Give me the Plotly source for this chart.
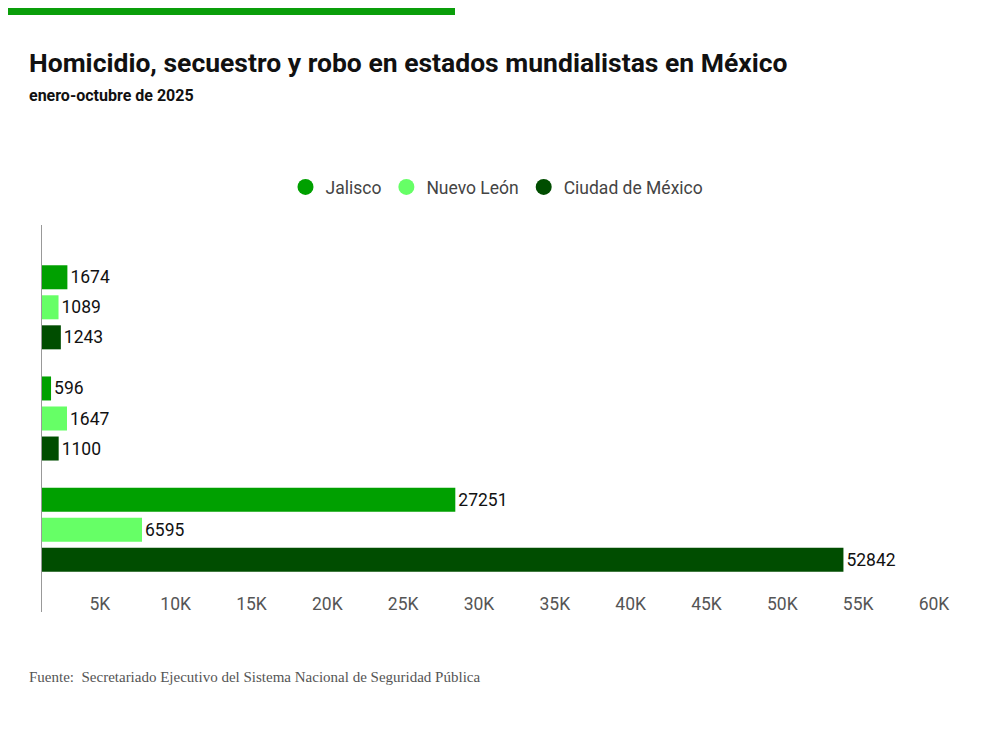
import plotly.graph_objects as go

# categories (tick labels hidden in the original)
delitos = ["Homicidio", "Secuestro", "Robo"]
estados = ["Jalisco", "Nuevo León", "Ciudad de México"]
colores = ["#00A000", "#66FF66", "#004D00"]

jalisco = [1674, 596, 27251]
nuevo_leon = [1089, 1647, 6595]
cdmx = [1243, 1100, 52842]

x_ticks = [5000, 10000, 15000, 20000, 25000, 30000, 35000, 40000, 45000, 50000, 55000, 60000]
x_tick_labels = ["5K", "10K", "15K", "20K", "25K", "30K", "35K", "40K", "45K", "50K", "55K", "60K"]

# page body adds an 8px offset, so the figure is laid out in page pixels minus 8
OFF = 8
W, H = 1000 - OFF, 745 - OFF
L, T = 42 - OFF, 225 - OFF
R, B = W - (952 - OFF), H - (612 - OFF)
PW, PH = W - L - R, H - T - B


def px_x(sx):
    return (sx - OFF - L) / PW


def px_y(sy):
    return (H - B - (sy - OFF)) / PH


FONT = "Roboto, Arial, sans-serif"

fig = go.Figure()
for name, vals, col in zip(estados, [jalisco, nuevo_leon, cdmx], colores):
    fig.add_trace(go.Bar(
        y=delitos, x=vals, orientation="h", name=name,
        marker=dict(color=col, line=dict(width=0)),
        text=[str(v) for v in vals], textposition="outside",
        textfont=dict(family=FONT, size=17.5, color="#111"),
        cliponaxis=False, showlegend=False,
    ))
    # legend entry with a round marker
    fig.add_trace(go.Scatter(
        x=[None], y=[None], mode="markers", name=name,
        marker=dict(color=col, size=17, symbol="circle"),
    ))

fig.update_layout(
    width=W, height=H,
    margin=dict(l=L, r=R, t=T, b=B),
    paper_bgcolor="white", plot_bgcolor="white",
    barmode="group", bargap=0.19, bargroupgap=0.2,
    font=dict(family=FONT, color="#444"),
    legend=dict(
        orientation="h", x=px_x(497), xanchor="center", y=px_y(187), yanchor="middle",
        font=dict(family=FONT, size=17.5, color="#444"),
        itemsizing="trace",
    ),
    xaxis=dict(
        range=[0, 60000], tickvals=x_ticks, ticktext=x_tick_labels,
        showgrid=False, zeroline=False, showline=False, ticks="",
        ticklabelposition="inside", ticklabelshift=-18, ticklabelstandoff=-4,
        tickfont=dict(family=FONT, size=17.5, color="#555"),
    ),
    yaxis=dict(
        range=[2.74, -0.74], showticklabels=False, showgrid=False,
        zeroline=False, showline=True, linecolor="#999", linewidth=1, ticks="",
    ),
    shapes=[dict(
        type="rect", xref="paper", yref="paper",
        x0=px_x(0), x1=px_x(455), y0=px_y(15), y1=px_y(OFF),
        fillcolor="#0A9E0A", line=dict(width=0),
    )],
    annotations=[
        dict(text="<b>Homicidio, secuestro y robo en estados mundialistas en México</b>",
             xref="paper", yref="paper", x=px_x(27), y=px_y(62),
             xanchor="left", yanchor="middle", showarrow=False,
             font=dict(family=FONT, size=26.5, color="#111")),
        dict(text="<b>enero-octubre de 2025</b>",
             xref="paper", yref="paper", x=px_x(27), y=px_y(95),
             xanchor="left", yanchor="middle", showarrow=False,
             font=dict(family=FONT, size=16, color="#111")),
        dict(text="Fuente:  Secretariado Ejecutivo del Sistema Nacional de Seguridad Pública",
             xref="paper", yref="paper", x=px_x(27), y=px_y(677),
             xanchor="left", yanchor="middle", showarrow=False,
             font=dict(family="Liberation Serif, Times New Roman, serif", size=15, color="#555")),
    ],
)

fig.write_html("out.html")
